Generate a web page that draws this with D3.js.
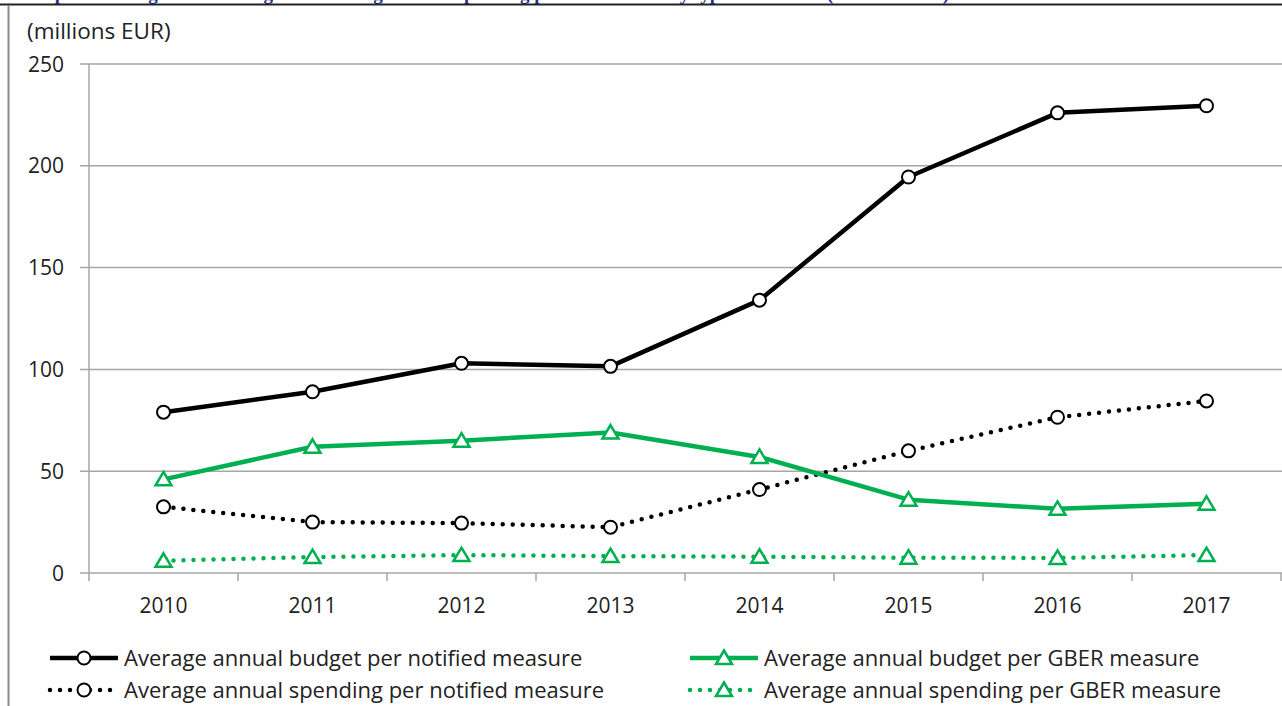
<!DOCTYPE html>
<html>
<head>
<meta charset="utf-8">
<script src="https://cdn.jsdelivr.net/npm/d3@7"></script>
<style>
  html, body { margin: 0; padding: 0; background: #fff; overflow: hidden; }
  svg { display: block; }
  text { font-family: "Open Sans", sans-serif; fill: #222; }
</style>
</head>
<body>
<svg id="chart"></svg>
<script>
// Chart data (millions EUR)
const years = ['2010', '2011', '2012', '2013', '2014', '2015', '2016', '2017'];
const budgetNotified = [79, 89, 103, 101.5, 134, 194.5, 226, 229.5];
const budgetGber = [46, 62, 65, 69, 57, 36, 31.5, 34];
const spendingNotified = [32.5, 25, 24.5, 22.5, 41, 60, 76.5, 84.5];
const spendingGber = [6, 7.8, 8.8, 8.3, 8, 7.5, 7.4, 8.8];
const yTicks = [0, 50, 100, 150, 200, 250];

const series = [
  { name: 'Average annual budget per notified measure', values: budgetNotified, color: '#000', dotted: false, marker: 'circle' },
  { name: 'Average annual budget per GBER measure', values: budgetGber, color: '#00b050', dotted: false, marker: 'triangle' },
  { name: 'Average annual spending per notified measure', values: spendingNotified, color: '#000', dotted: true, marker: 'circle' },
  { name: 'Average annual spending per GBER measure', values: spendingGber, color: '#00b050', dotted: true, marker: 'triangle' }
];

const width = 1282, height = 706;
const svg = d3.select('#chart').attr('width', width).attr('height', height);

// Title (cut off at the top edge, as in the source page) and frame
svg.append('text')
  .attr('x', 22).attr('y', 0)
  .style('font-family', '"Liberation Serif", serif')
  .style('font-weight', 'bold')
  .style('font-size', '19px')
  .style('fill', '#1f2f8f')
  .text('Graph 4: Average annual budget and average annual spending per aid measure by type of measure (millions EUR)');

svg.append('line')
  .attr('x1', 0).attr('x2', width).attr('y1', 4.5).attr('y2', 4.5)
  .attr('stroke', '#222').attr('stroke-width', 2);
svg.append('line')
  .attr('x1', 8.5).attr('x2', 8.5).attr('y1', 5).attr('y2', height)
  .attr('stroke', '#8a8a8a').attr('stroke-width', 2);

const x = d3.scaleBand().domain(years).range([89, 1281]);
const y = d3.scaleLinear().domain([0, 250]).range([573, 64]);
const cx = d => x(d) + x.bandwidth() / 2;

// Gridlines
svg.append('g')
  .selectAll('line')
  .data(yTicks)
  .enter().append('line')
  .attr('x1', 80).attr('x2', width)
  .attr('y1', d => y(d)).attr('y2', d => y(d))
  .attr('stroke', '#a6a6a6').attr('stroke-width', 1.5);

// Y axis line and labels
svg.append('line')
  .attr('x1', 89).attr('x2', 89).attr('y1', y(250)).attr('y2', 581)
  .attr('stroke', '#a6a6a6').attr('stroke-width', 1.5);

svg.append('g')
  .selectAll('text')
  .data(yTicks)
  .enter().append('text')
  .attr('x', 64).attr('y', d => y(d))
  .attr('dy', '0.36em')
  .attr('text-anchor', 'end')
  .style('font-size', '21px')
  .text(d => d);

svg.append('text')
  .attr('x', 27).attr('y', 39)
  .style('font-size', '22.5px')
  .text('(millions EUR)');

// X axis: tick marks between categories
svg.append('g')
  .selectAll('line')
  .data(years.slice(1).concat(['end']))
  .enter().append('line')
  .attr('x1', d => d === 'end' ? 1281 : x(d))
  .attr('x2', d => d === 'end' ? 1281 : x(d))
  .attr('y1', y(0)).attr('y2', 581)
  .attr('stroke', '#a6a6a6').attr('stroke-width', 1.5);

svg.append('g')
  .selectAll('text')
  .data(years)
  .enter().append('text')
  .attr('x', d => cx(d)).attr('y', 613)
  .attr('text-anchor', 'middle')
  .style('font-size', '21px')
  .text(d => d);

// Markers
const triPath = 'M0,-7.5L8,6L-8,6Z';
function drawMarker(g, s, px, py) {
  if (s.marker === 'circle') {
    g.append('circle')
      .attr('cx', px).attr('cy', py).attr('r', 6.5)
      .attr('fill', '#fff').attr('stroke', '#000').attr('stroke-width', 2);
  } else {
    g.append('path')
      .attr('d', triPath)
      .attr('transform', `translate(${px},${py})`)
      .attr('fill', '#fff').attr('stroke', s.color).attr('stroke-width', 2.5)
      .attr('stroke-linejoin', 'miter');
  }
}

const line = d3.line()
  .x((d, i) => cx(years[i]))
  .y(d => y(d));

// Draw dotted series first, solid on top
const order = [2, 3, 1, 0];
order.forEach(k => {
  const s = series[k];
  const g = svg.append('g').attr('class', 'series');
  g.append('path')
    .datum(s.values)
    .attr('d', line)
    .attr('fill', 'none')
    .attr('stroke', s.color)
    .attr('stroke-width', 4.5)
    .attr('stroke-linecap', 'round')
    .attr('stroke-linejoin', 'round')
    .attr('stroke-dasharray', s.dotted ? '0 10' : null);
  s.values.forEach((v, i) => drawMarker(g, s, cx(years[i]), y(v)));
});

// Legend
const legendPos = [
  { x: 50, y: 658 }, { x: 690, y: 658 },
  { x: 50, y: 690 }, { x: 690, y: 690 }
];
series.forEach((s, i) => {
  const p = legendPos[i];
  const g = svg.append('g').attr('class', 'legend');
  g.append('line')
    .attr('x1', p.x).attr('x2', p.x + 68)
    .attr('y1', p.y).attr('y2', p.y)
    .attr('stroke', s.color)
    .attr('stroke-width', 4.5)
    .attr('stroke-linecap', s.dotted ? 'round' : 'butt')
    .attr('stroke-dasharray', s.dotted ? '0 10' : null);
  drawMarker(g, s, p.x + 34, p.y);
  g.append('text')
    .attr('x', p.x + 74).attr('y', p.y)
    .attr('dy', '0.36em')
    .style('font-size', '22px')
    .text(s.name);
});
</script>
</body>
</html>
